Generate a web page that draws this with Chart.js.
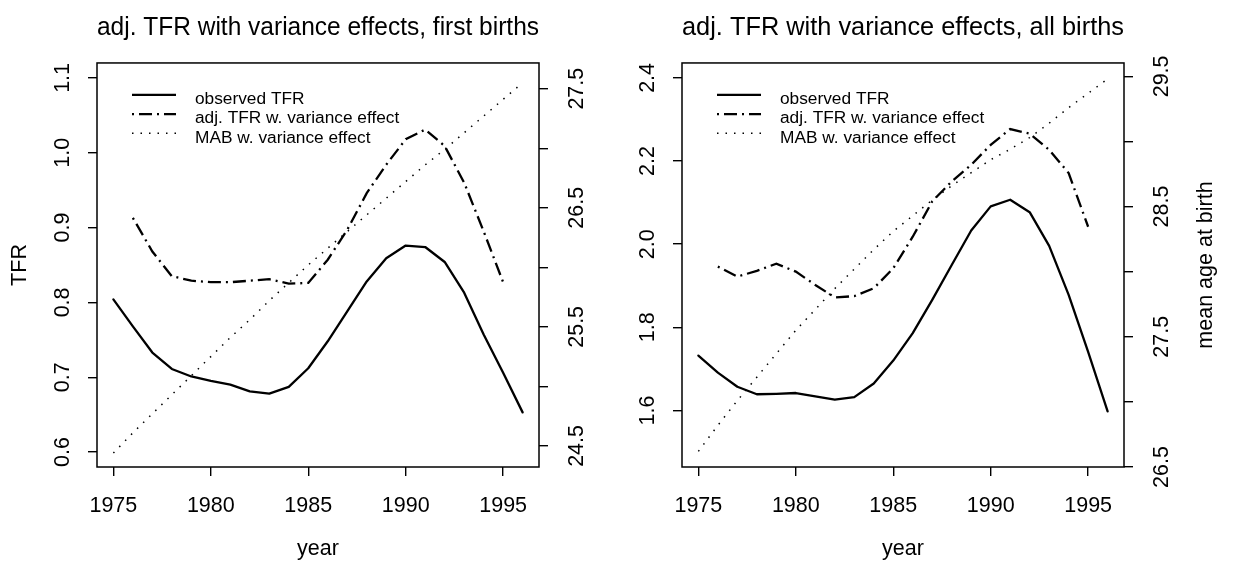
<!DOCTYPE html>
<html>
<head>
<meta charset="utf-8">
<title>adj. TFR with variance effects</title>
<script src="https://cdn.jsdelivr.net/npm/chart.js@4"></script>
<style>
body { margin: 0; background: #fff; }
canvas { position: absolute; top: 0; }
#leftChart { left: 0; }
#rightChart { left: 617px; }
</style>
</head>
<body>
<canvas id="leftChart" width="617" height="565"></canvas>
<canvas id="rightChart" width="618" height="565"></canvas>
<script>
// data
var years = [1975, 1976, 1977, 1978, 1979, 1980, 1981, 1982, 1983, 1984, 1985,
             1986, 1987, 1988, 1989, 1990, 1991, 1992, 1993, 1994, 1995, 1996];

// first births
var obsFirst = [0.804, 0.768, 0.733, 0.711, 0.701, 0.695, 0.690, 0.681, 0.678, 0.687, 0.712,
                0.748, 0.788, 0.828, 0.859, 0.876, 0.874, 0.854, 0.813, 0.757, 0.706, 0.653];
var adjFirst = [null, 0.913, 0.868, 0.835, 0.829, 0.827, 0.827, 0.829, 0.831, 0.825, 0.826,
                0.857, 0.897, 0.946, 0.984, 1.018, 1.031, 1.009, 0.960, 0.895, 0.827, null];
var mabFirst = [24.44, 24.61, 24.77, 24.93, 25.09, 25.25, 25.41, 25.56, 25.72, 25.87, 26.02,
                26.16, 26.30, 26.44, 26.58, 26.72, 26.86, 26.99, 27.13, 27.27, 27.41, 27.55];

// all births
var obsAll = [1.732, 1.691, 1.657, 1.639, 1.640, 1.642, 1.634, 1.626, 1.632, 1.665, 1.720,
              1.786, 1.866, 1.950, 2.033, 2.091, 2.107, 2.077, 1.996, 1.878, 1.741, 1.598];
var adjAll = [null, 1.946, 1.922, 1.936, 1.953, 1.934, 1.902, 1.872, 1.875, 1.894, 1.942,
              2.018, 2.103, 2.151, 2.191, 2.239, 2.277, 2.266, 2.227, 2.171, 2.042, null];
var mabAll = [26.62, 26.82, 27.01, 27.19, 27.37, 27.55, 27.71, 27.87, 28.02, 28.17, 28.31,
              28.43, 28.55, 28.66, 28.76, 28.86, 28.94, 29.03, 29.14, 29.26, 29.37, 29.48];

// ticks
var xTicks = [1975, 1980, 1985, 1990, 1995];
var tfrTicksFirst = [0.6, 0.7, 0.8, 0.9, 1.0, 1.1];
var mabTicksFirst = [24.5, 25, 25.5, 26, 26.5, 27, 27.5];
var tfrTicksAll = [1.6, 1.8, 2.0, 2.2, 2.4];
var mabTicksAll = [26.5, 27, 27.5, 28, 28.5, 29, 29.5];

var seriesNames = ['observed TFR', 'adj. TFR w. variance effect', 'MAB w. variance effect'];

var FONT = "'Liberation Sans', Arial, sans-serif";

function pts(vals) {
	return years.map(function (y, i) { return {x: y, y: vals[i]}; });
}

function tickFont() { return {family: FONT, size: 21.5}; }

function tickMarks() {
	return {drawOnChartArea: false, drawTicks: true, tickLength: 9, color: '#000', lineWidth: 1.4};
}

function xAxis() {
	return {
		type: 'linear', position: 'bottom', min: 1974.16, max: 1996.84,
		afterBuildTicks: function (s) { s.ticks = xTicks.map(function (v) { return {value: v}; }); },
		afterFit: function (s) { s.height = 98; },
		ticks: {font: tickFont(), color: '#000', padding: 17, autoSkip: false, maxRotation: 0,
			callback: function (v) { return String(v); }},
		grid: tickMarks(),
		border: {display: false},
		title: {display: true, text: 'year', font: tickFont(), color: '#000', padding: {top: 0, bottom: 3.3}}
	};
}

function yAxis(pos, min, max, ticks, fmt, pad, width, title) {
	return {
		type: 'linear', position: pos, min: min, max: max,
		afterBuildTicks: function (s) { s.ticks = ticks.map(function (v) { return {value: v}; }); },
		afterFit: function (s) { s.width = width; },
		ticks: {font: tickFont(), color: '#000', padding: pad, autoSkip: false,
			minRotation: 90, maxRotation: 90, crossAlign: 'center', callback: fmt},
		grid: tickMarks(),
		border: {display: false},
		title: title ? {display: true, text: title, font: tickFont(), color: '#000', padding: {top: 6.7, bottom: 0}}
		             : {display: false}
	};
}

function tfrLabel(v) { return v.toFixed(1); }
// R leaves out the labels that would overlap: only the .5 ticks get one
function mabLabel(v) { return Math.abs(v % 1 - 0.5) < 1e-9 ? v.toFixed(1) : ''; }

// box round the plot region
var framePlugin = {
	id: 'frame',
	afterDraw: function (chart) {
		var a = chart.chartArea, ctx = chart.ctx;
		ctx.save();
		ctx.strokeStyle = '#000';
		ctx.lineWidth = 1.5;
		ctx.strokeRect(a.left, a.top, a.right - a.left, a.bottom - a.top);
		ctx.restore();
	}
};

// legend inside the plot, like R's legend("topleft", bty="n")
var legendPlugin = {
	id: 'insideLegend',
	afterDraw: function (chart) {
		var a = chart.chartArea, ctx = chart.ctx;
		chart.data.datasets.forEach(function (ds, i) {
			var y = a.top + 32 + i * 19.2;
			ctx.save();
			ctx.strokeStyle = ds.borderColor;
			ctx.lineWidth = ds.borderWidth;
			ctx.setLineDash(ds.borderDash || []);
			ctx.beginPath();
			ctx.moveTo(a.left + 35, y);
			ctx.lineTo(a.left + 79, y);
			ctx.stroke();
			ctx.setLineDash([]);
			ctx.fillStyle = '#000';
			ctx.font = '17.3px ' + FONT;
			ctx.textBaseline = 'alphabetic';
			ctx.fillText(ds.label, a.left + 98, y + 9.3);
			ctx.restore();
		});
	}
};

// right axis title reads bottom to top, which the scale title can't do on the right side
var sideTitlePlugin = {
	id: 'sideTitle',
	afterDraw: function (chart) {
		var a = chart.chartArea, ctx = chart.ctx;
		ctx.save();
		ctx.translate(589, (a.top + a.bottom) / 2);
		ctx.rotate(-Math.PI / 2);
		ctx.font = '21.5px ' + FONT;
		ctx.fillStyle = '#000';
		ctx.textAlign = 'center';
		ctx.textBaseline = 'middle';
		ctx.fillText('mean age at birth', 0, 0);
		ctx.restore();
	}
};

function datasets(obs, adj, mab) {
	return [{
		label: seriesNames[0], data: pts(obs), yAxisID: 'y',
		borderColor: '#000', borderWidth: 2.3, borderJoinStyle: 'round', borderCapStyle: 'round',
		pointRadius: 0, tension: 0, fill: false
	}, {
		label: seriesNames[1], data: pts(adj), yAxisID: 'y',
		borderColor: '#000', borderWidth: 2.3, borderDash: [2, 5, 13, 5],
		pointRadius: 0, tension: 0, fill: false
	}, {
		label: seriesNames[2], data: pts(mab), yAxisID: 'y1',
		borderColor: '#000', borderWidth: 1.5, borderDash: [1.5, 7],
		pointRadius: 0, tension: 0, fill: false
	}];
}

function commonOptions(title) {
	return {
		responsive: false,
		animation: false,
		devicePixelRatio: 1,
		layout: {padding: 0},
		plugins: {
			title: {display: true, text: title, fullSize: false, color: '#000',
				font: {family: FONT, size: 26.3, weight: 'normal'}, padding: {top: 11.8, bottom: 19.6}},
			legend: {display: false},
			tooltip: {enabled: false}
		}
	};
}

var optLeft = commonOptions('adj. TFR with variance effects, first births');
optLeft.scales = {
	x: xAxis(),
	y: yAxis('left', 0.58, 1.12, tfrTicksFirst, tfrLabel, 10.2, 97, 'TFR'),
	y1: yAxis('right', 24.323, 27.716, mabTicksFirst, mabLabel, 8.5, 78, null)
};

new Chart('leftChart', {
	type: 'line',
	data: {datasets: datasets(obsFirst, adjFirst, mabFirst)},
	options: optLeft,
	plugins: [framePlugin, legendPlugin]
});

var optRight = commonOptions('adj. TFR with variance effects, all births');
optRight.scales = {
	x: xAxis(),
	y: yAxis('left', 1.464, 2.436, tfrTicksAll, tfrLabel, 10.2, 65, null),
	y1: yAxis('right', 26.5, 29.603, mabTicksAll, mabLabel, 8.5, 111, null)
};

new Chart('rightChart', {
	type: 'line',
	data: {datasets: datasets(obsAll, adjAll, mabAll)},
	options: optRight,
	plugins: [framePlugin, legendPlugin, sideTitlePlugin]
});
</script>
</body>
</html>
